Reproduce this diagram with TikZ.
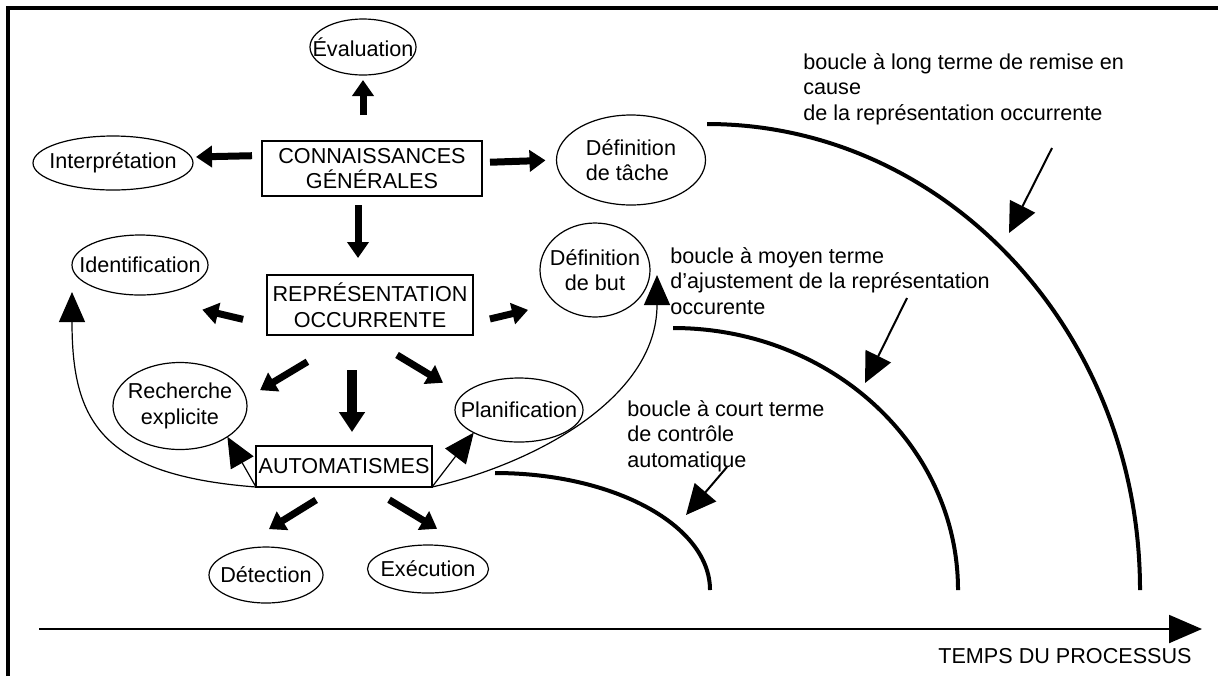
\documentclass[tikz,border=0pt]{standalone}
\usepackage{fontspec}
\setmainfont{Liberation Sans}
\usetikzlibrary{shapes.geometric,arrows.meta}
\tikzset{
  oval/.style={ellipse,draw,line width=0.6pt,inner xsep=-15pt,inner ysep=0pt,outer sep=0pt,align=center},
  bloc/.style={rectangle,draw,line width=0.8pt,inner sep=0pt,outer sep=0pt,align=center},
  note/.style={anchor=north west,inner sep=0pt,align=left},
  push/.style={line width=3.5pt,-{Triangle[length=8pt,width=10.5pt]}},
  bigpush/.style={line width=5pt,-{Triangle[length=10pt,width=12.5pt]}},
  reach/.style={line width=0.6pt,-{Triangle[length=15pt,width=13pt]}},
  pointer/.style={line width=1pt,-{Triangle[length=15pt,width=14pt]}},
  loopline/.style={line width=2pt},
  axisline/.style={line width=1pt,-{Triangle[length=16.5pt,width=14pt]}},
}
\begin{document}
\begin{tikzpicture}[x=0.5pt,y=-0.5pt,font=\fontsize{10.8}{12.75}\selectfont]
\useasboundingbox (0,0) rectangle (1218,676);
\draw[line width=1.6pt] (8,676) -- (8,8) -- (1218,8);

\node[oval,minimum width=53pt,minimum height=28pt] (eval) at (363,47) {Évaluation};
\node[bloc,minimum width=110pt,minimum height=27.5pt] (conn) at (372,168.5) {CONNAISSANCES\\GÉNÉRALES};
\node[oval,minimum width=80pt,minimum height=27pt] (interp) at (113,163) {Interprétation};
\node[oval,minimum width=74.5pt,minimum height=45pt,align=left] (tache) at (631,160) {Définition\\de tâche};
\node[bloc,minimum width=103pt,minimum height=30pt] (rep) at (370,305) {REPRÉSENTATION\\OCCURRENTE};
\node[oval,minimum width=68pt,minimum height=30pt] (ident) at (140,265) {Identification};
\node[oval,minimum width=55pt,minimum height=47pt] (but) at (595,270) {Définition\\de but};
\node[oval,minimum width=67pt,minimum height=43.5pt] (rech) at (180,406) {Recherche\\explicite};
\node[oval,minimum width=64pt,minimum height=32pt] (plan) at (519,410) {Planification};
\node[bloc,minimum width=88pt,minimum height=20.5pt] (auto) at (344,466.5) {AUTOMATISMES};
\node[oval,minimum width=57pt,minimum height=28pt] (detect) at (266,575) {Détection};
\node[oval,minimum width=60.5pt,minimum height=24pt] (exec) at (428,569) {Exécution};

\draw[push,shorten <=13pt,shorten >=2.5pt] (conn.north -| eval) -- (eval.south);
\draw[push,shorten <=5pt,shorten >=1.5pt] ([yshift=6.5pt]conn.west) -- ([yshift=3pt]interp.east);
\draw[push,shorten <=4pt,shorten >=5.5pt] ([yshift=3pt]conn.east) -- (tache.west);
\draw[push,shorten <=4.5pt,shorten >=8.5pt] ([xshift=-7pt]conn.south) -- ([xshift=-6pt]rep.north);
\draw[push,shorten <=12.3pt,shorten >=32pt] ([yshift=-10pt]rep.west) -- (ident.south);
\draw[push,shorten <=8.7pt,shorten >=14.4pt] ([yshift=-9pt]rep.east) -- (but.south west);
\draw[push,shorten <=26pt,shorten >=7.6pt] ([xshift=-9pt]rep.south) -- ([yshift=4pt]rech.east);
\draw[bigpush,shorten <=17.5pt,shorten >=7pt] ([xshift=-9pt]rep.south) -- ([xshift=4pt]auto.north);
\draw[push,shorten <=19.3pt,shorten >=7pt] ([xshift=-3pt]rep.south) -- ([yshift=10pt]plan.west);
\draw[push,shorten <=12.3pt,shorten >=17pt] ([xshift=-3.5pt]auto.south) -- ([xshift=-13pt]detect.north);
\draw[push,shorten <=12.3pt,shorten >=15.7pt] ([xshift=12pt]auto.south) -- ([xshift=18pt]exec.north);

\draw[reach] (auto.south west) -- (rech.south east);
\draw[reach] (auto.south east) -- (plan.south west);
\draw[reach] (auto.south west) .. controls (100,475) and (72,420) .. ([yshift=-13.5pt]ident.west);
\draw[reach] (auto.south east) .. controls (530,465) and (657,400) .. ([shift={(7,5)}]but.east);

\draw[loopline] (495,473) arc[start angle=-90,end angle=0,x radius=215,y radius=117];
\draw[loopline] (673,328) arc[start angle=-90,end angle=0,x radius=285,y radius=262];
\draw[loopline] (707,124) arc[start angle=-90,end angle=0,x radius=433,y radius=466];

\node[note] (longnote) at (803,53) {boucle à long terme de remise en\\cause\\de la représentation occurrente};
\node[note] (midnote) at (670,247) {boucle à moyen terme\\d’ajustement de la représentation\\occurente};
\node[note] (shortnote) at (627,400) {boucle à court terme\\de contrôle\\automatique};

\coordinate (lt-from) at (1052,148);
\coordinate (lt-to) at (1009,233);
\coordinate (mt-from) at (907,298);
\coordinate (mt-to) at (865,383);
\coordinate (ct-from) at (727,467);
\coordinate (ct-to) at (686,515);
\draw[pointer] (lt-from) -- (lt-to);
\draw[pointer] (mt-from) -- (mt-to);
\draw[pointer] (ct-from) -- (ct-to);

\coordinate (t0) at (39,629);
\coordinate (t1) at (1202,629);
\draw[axisline] (t0) -- (t1);
\node[anchor=base east,inner sep=0pt] (tlabel) at (1192,663) {TEMPS DU PROCESSUS};
\end{tikzpicture}
\end{document}
